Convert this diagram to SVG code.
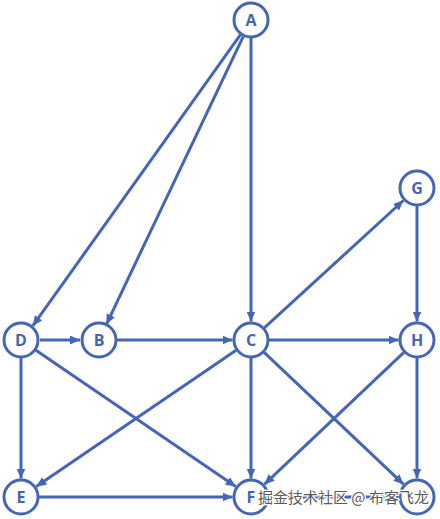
<svg xmlns="http://www.w3.org/2000/svg" width="440" height="519" viewBox="0 0 440 519">
<style>
.n circle{fill:#fff;stroke:#4565b5;stroke-width:3}
.n text{font-family:"Open Sans","Liberation Sans",sans-serif;font-weight:bold;font-size:16px;fill:#4565b5;text-anchor:middle;dominant-baseline:central}
#edges line{stroke:#4565b5;stroke-width:3;marker-end:url(#arr)}
.wm{font-family:"Noto Sans CJK SC","Noto Sans",sans-serif;font-size:15px;fill:#5a5a5a;stroke:#fff;stroke-width:2.5;paint-order:stroke;stroke-linejoin:round}
</style>
<defs>
<marker id="arr" markerUnits="userSpaceOnUse" markerWidth="11" markerHeight="10" refX="10" refY="4.5" orient="auto">
<path d="M0,0 L10,4.5 L0,9 z" fill="#4565b5"/>
</marker>
</defs>
<rect width="440" height="519" fill="#fff"/>
<g id="edges">
<line x1="240.5" y1="34.7" x2="32.7" y2="325.9"/>
<line x1="243.3" y1="36.3" x2="106.4" y2="324.3"/>
<line x1="251" y1="38" x2="251" y2="321.5"/>
<line x1="417" y1="206" x2="417" y2="321.5"/>
<line x1="264.3" y1="327.9" x2="403.4" y2="200.5"/>
<line x1="40" y1="340" x2="80" y2="340"/>
<line x1="117" y1="340" x2="232.5" y2="340"/>
<line x1="269" y1="340" x2="398.5" y2="340"/>
<line x1="21" y1="358" x2="21" y2="478.5"/>
<line x1="35.9" y1="350.2" x2="235.7" y2="486.6"/>
<line x1="236.1" y1="350.2" x2="36.3" y2="486.6"/>
<line x1="251" y1="358" x2="251" y2="478.5"/>
<line x1="264.1" y1="352.4" x2="403.6" y2="484.3"/>
<line x1="403.9" y1="352.4" x2="264.4" y2="484.3"/>
<line x1="417" y1="358" x2="417" y2="478.5"/>
<line x1="39" y1="497" x2="232.5" y2="497"/>
<line x1="269" y1="497" x2="398.5" y2="497"/>
</g>
<g id="A" class="n"><circle cx="251" cy="20" r="17"/><text x="251" y="20">A</text></g>
<g id="G" class="n"><circle cx="417" cy="188" r="17"/><text x="417" y="188">G</text></g>
<g id="D" class="n"><circle cx="21" cy="340" r="17"/><text x="21" y="340">D</text></g>
<g id="B" class="n"><circle cx="99" cy="340" r="17"/><text x="99" y="340">B</text></g>
<g id="C" class="n"><circle cx="251" cy="340" r="17"/><text x="251" y="340">C</text></g>
<g id="H" class="n"><circle cx="417" cy="340" r="17"/><text x="417" y="340">H</text></g>
<g id="E" class="n"><circle cx="21" cy="497" r="17"/><text x="21" y="497">E</text></g>
<g id="F" class="n"><circle cx="251" cy="497" r="17"/><text x="251" y="497">F</text></g>
<g id="I" class="n"><circle cx="417" cy="497" r="17"/></g>
<text class="wm" x="258" y="503">掘金技术社区 @ 布客飞龙</text>
</svg>
